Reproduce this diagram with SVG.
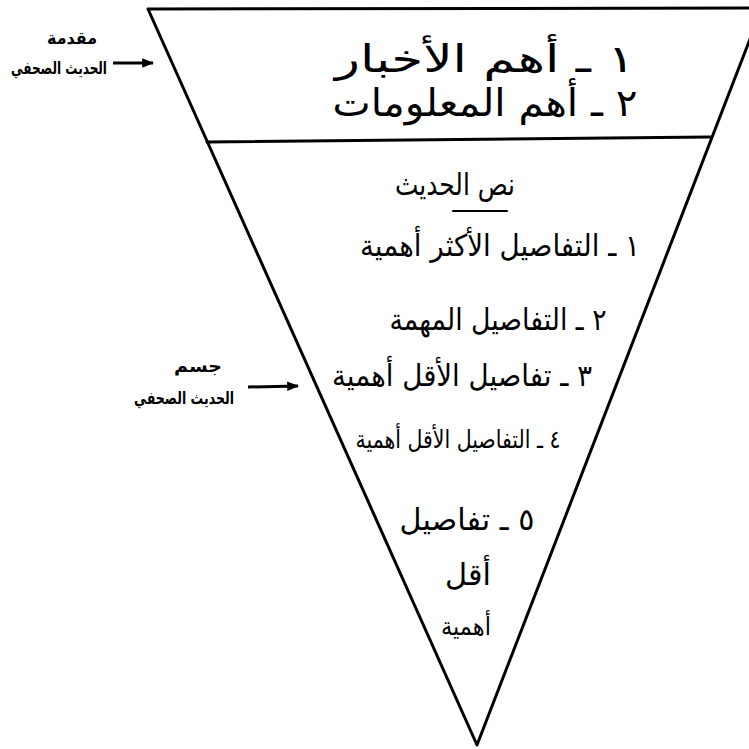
<svg xmlns="http://www.w3.org/2000/svg" width="749" height="749" viewBox="0 0 749 749">
<defs>
<style>
.edge{fill:none;stroke:#000;stroke-width:3;stroke-linejoin:round;stroke-linecap:round}
.t{font-family:"DejaVu Sans","Noto Sans",sans-serif;fill:#000;text-anchor:middle}
.big{font-size:38px}
.mid{font-size:30px}
.small{font-size:25px}
.sm{font-size:17px;font-weight:bold}
.arrow{stroke:#000;stroke-width:3;fill:none}
</style>
<marker id="ah" viewBox="0 0 10 10" refX="9" refY="5" markerWidth="4" markerHeight="4" orient="auto">
<path d="M0,1 L10,5 L0,9 z" fill="#000"/>
</marker>
</defs>
<rect width="749" height="749" fill="#fff"/>
<g id="pyramid">
<path class="edge" d="M760,8 L148,9 L477,745 L762,8"/>
</g>
<g id="intro">
<line class="edge" x1="207" y1="142" x2="710" y2="137"/>
<text class="t big" x="485" y="72" direction="rtl" textLength="300" lengthAdjust="spacingAndGlyphs">١ ـ أهم الأخبار</text>
<text class="t big" x="485" y="116" direction="rtl" textLength="305" lengthAdjust="spacingAndGlyphs">٢ ـ أهم المعلومات</text>
</g>
<g id="body">
<text class="t mid" x="455" y="195" direction="rtl" textLength="120" lengthAdjust="spacingAndGlyphs">نص الحديث</text>
<line class="edge" x1="453" y1="211" x2="507" y2="211" style="stroke-width:2"/>
<text class="t mid" x="500" y="256" direction="rtl" textLength="280" lengthAdjust="spacingAndGlyphs">١ ـ التفاصيل الأكثر أهمية</text>
<text class="t mid" x="498" y="330" direction="rtl" textLength="217" lengthAdjust="spacingAndGlyphs">٢ ـ التفاصيل المهمة</text>
<text class="t mid" x="462" y="386" direction="rtl" textLength="260" lengthAdjust="spacingAndGlyphs">٣ ـ تفاصيل الأقل أهمية</text>
<text class="t small" x="458" y="448" direction="rtl" textLength="205" lengthAdjust="spacingAndGlyphs">٤ ـ التفاصيل الأقل أهمية</text>
<text class="t mid" x="467" y="530" direction="rtl" textLength="135" lengthAdjust="spacingAndGlyphs">٥ ـ تفاصيل</text>
<text class="t mid" x="468" y="585" direction="rtl" textLength="46" lengthAdjust="spacingAndGlyphs">أقل</text>
<text class="t small" x="466" y="635" direction="rtl" textLength="50" lengthAdjust="spacingAndGlyphs">أهمية</text>
</g>
<g id="label-intro">
<text class="t sm" x="72" y="44" direction="rtl" textLength="50" lengthAdjust="spacingAndGlyphs">مقدمة</text>
<text class="t sm" x="59" y="74" direction="rtl" textLength="96" lengthAdjust="spacingAndGlyphs">الحديث الصحفي</text>
</g>
<g id="label-body">
<text class="t sm" x="198" y="372" direction="rtl" textLength="48" lengthAdjust="spacingAndGlyphs">جسم</text>
<text class="t sm" x="184" y="404" direction="rtl" textLength="100" lengthAdjust="spacingAndGlyphs">الحديث الصحفي</text>
</g>
<g id="connectors">
<line class="arrow" x1="113" y1="63" x2="153" y2="63" marker-end="url(#ah)"/>
<line class="arrow" x1="248" y1="387" x2="298" y2="386" marker-end="url(#ah)"/>
</g>
</svg>
